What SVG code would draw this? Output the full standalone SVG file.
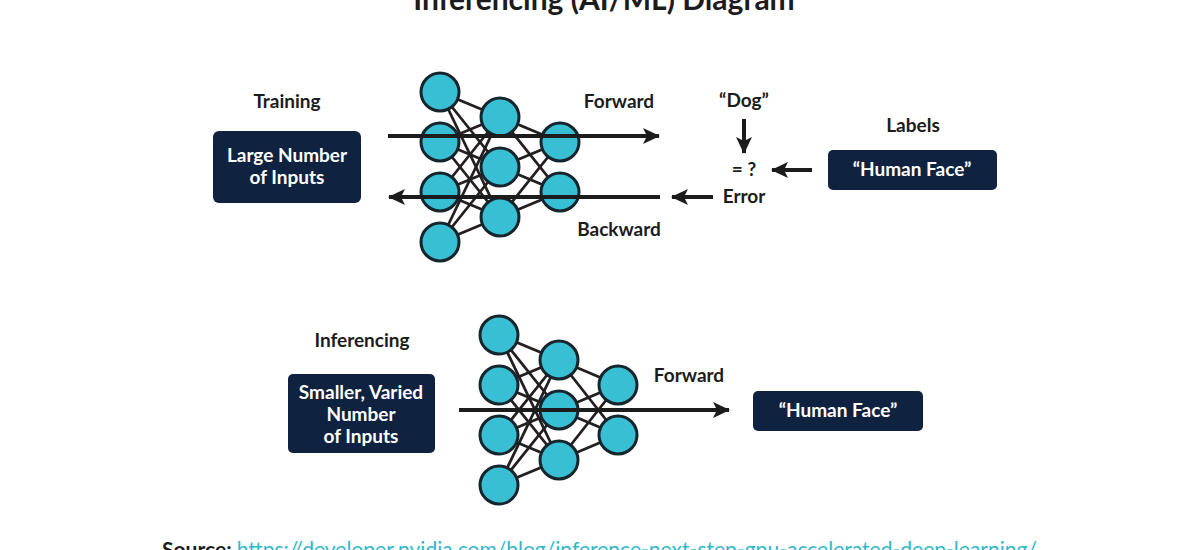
<svg xmlns="http://www.w3.org/2000/svg" width="1200" height="550" viewBox="0 0 1200 550">
<defs>
<marker id="ah" markerUnits="userSpaceOnUse" markerWidth="18" markerHeight="16" refX="16" refY="8" orient="auto">
<path d="M0,0 L17,8 L0,16 L4,8 z" fill="#1c1c1c"/>
</marker>
<style>
.t{font-family:Lato,"Noto Sans",sans-serif;font-weight:700;fill:#1c1c1c;font-size:19px;text-anchor:middle}
.w{font-family:Lato,"Noto Sans",sans-serif;font-weight:700;fill:#ffffff;font-size:19px;text-anchor:middle}
.box{fill:#0f223f}
.n{fill:#38bfd3;stroke:#16242c;stroke-width:3}
.e{stroke:#231f20;stroke-width:2.8;fill:none}
.a{stroke:#1c1c1c;stroke-width:4;fill:none}
</style>
</defs>
<rect width="1200" height="550" fill="#ffffff"/>
<text x="604" y="10" style="font-family:Lato,'Noto Sans',sans-serif;font-weight:700;font-size:30px;fill:#1c1c1c;text-anchor:middle">Inferencing (AI/ML) Diagram</text>

<g id="connectors">
<g id="net1-edges">
<line class="e" x1="440" y1="92" x2="500" y2="117"/><line class="e" x1="440" y1="92" x2="500" y2="167"/><line class="e" x1="440" y1="92" x2="500" y2="217"/>
<line class="e" x1="440" y1="142" x2="500" y2="117"/><line class="e" x1="440" y1="142" x2="500" y2="167"/><line class="e" x1="440" y1="142" x2="500" y2="217"/>
<line class="e" x1="440" y1="192" x2="500" y2="117"/><line class="e" x1="440" y1="192" x2="500" y2="167"/><line class="e" x1="440" y1="192" x2="500" y2="217"/>
<line class="e" x1="440" y1="242" x2="500" y2="117"/><line class="e" x1="440" y1="242" x2="500" y2="167"/><line class="e" x1="440" y1="242" x2="500" y2="217"/>
<line class="e" x1="500" y1="117" x2="560" y2="142"/><line class="e" x1="500" y1="117" x2="560" y2="192"/>
<line class="e" x1="500" y1="167" x2="560" y2="142"/><line class="e" x1="500" y1="167" x2="560" y2="192"/>
<line class="e" x1="500" y1="217" x2="560" y2="142"/><line class="e" x1="500" y1="217" x2="560" y2="192"/>
</g>
<g id="net2-edges">
<line class="e" x1="499" y1="335" x2="559" y2="360"/><line class="e" x1="499" y1="335" x2="559" y2="410"/><line class="e" x1="499" y1="335" x2="559" y2="460"/>
<line class="e" x1="499" y1="385" x2="559" y2="360"/><line class="e" x1="499" y1="385" x2="559" y2="410"/><line class="e" x1="499" y1="385" x2="559" y2="460"/>
<line class="e" x1="499" y1="435" x2="559" y2="360"/><line class="e" x1="499" y1="435" x2="559" y2="410"/><line class="e" x1="499" y1="435" x2="559" y2="460"/>
<line class="e" x1="499" y1="485" x2="559" y2="360"/><line class="e" x1="499" y1="485" x2="559" y2="410"/><line class="e" x1="499" y1="485" x2="559" y2="460"/>
<line class="e" x1="559" y1="360" x2="618" y2="385"/><line class="e" x1="559" y1="360" x2="618" y2="435"/>
<line class="e" x1="559" y1="410" x2="618" y2="385"/><line class="e" x1="559" y1="410" x2="618" y2="435"/>
<line class="e" x1="559" y1="460" x2="618" y2="385"/><line class="e" x1="559" y1="460" x2="618" y2="435"/>
</g>
</g>

<g id="net1-nodes">
<circle class="n" cx="440" cy="92" r="19"/><circle class="n" cx="440" cy="142" r="19"/><circle class="n" cx="440" cy="192" r="19"/><circle class="n" cx="440" cy="242" r="19"/>
<circle class="n" cx="500" cy="117" r="19"/><circle class="n" cx="500" cy="167" r="19"/><circle class="n" cx="500" cy="217" r="19"/>
<circle class="n" cx="560" cy="142" r="19"/><circle class="n" cx="560" cy="192" r="19"/>
</g>
<g id="net2-nodes">
<circle class="n" cx="499" cy="335" r="19"/><circle class="n" cx="499" cy="385" r="19"/><circle class="n" cx="499" cy="435" r="19"/><circle class="n" cx="499" cy="485" r="19"/>
<circle class="n" cx="559" cy="360" r="19"/><circle class="n" cx="559" cy="410" r="19"/><circle class="n" cx="559" cy="460" r="19"/>
<circle class="n" cx="618" cy="385" r="19"/><circle class="n" cx="618" cy="435" r="19"/>
</g>

<g id="arrows">
<line class="a" x1="388" y1="136" x2="659" y2="136" marker-end="url(#ah)"/>
<line class="a" x1="660" y1="197" x2="389" y2="197" marker-end="url(#ah)"/>
<line class="a" x1="744" y1="119" x2="744" y2="153" marker-end="url(#ah)"/>
<line class="a" x1="812" y1="170" x2="772" y2="170" marker-end="url(#ah)"/>
<line class="a" x1="713" y1="197" x2="672" y2="197" marker-end="url(#ah)"/>
<line class="a" x1="459" y1="410" x2="729" y2="410" marker-end="url(#ah)"/>
</g>

<g id="training">
<text class="t" x="287" y="108">Training</text>
<rect class="box" x="213" y="131" width="148" height="72" rx="6"/>
<text class="w" x="287" y="162">Large Number</text>
<text class="w" x="287" y="184">of Inputs</text>
</g>
<g id="labels">
<text class="t" x="913" y="132">Labels</text>
<rect class="box" x="828" y="150" width="169" height="40" rx="5"/>
<text class="w" x="912" y="176">“Human Face”</text>
</g>
<g id="misc-top">
<text class="t" x="619" y="108">Forward</text>
<text class="t" x="619" y="236">Backward</text>
<text class="t" x="744" y="107">“Dog”</text>
<text class="t" x="744" y="176">= ?</text>
<text class="t" x="744" y="203">Error</text>
</g>
<g id="inferencing">
<text class="t" x="362" y="347">Inferencing</text>
<rect class="box" x="288" y="374" width="147" height="79" rx="5"/>
<text class="w" x="361" y="399">Smaller, Varied</text>
<text class="w" x="361" y="421">Number</text>
<text class="w" x="361" y="443">of Inputs</text>
</g>
<g id="output">
<text class="t" x="689" y="382">Forward</text>
<rect class="box" x="753" y="391" width="170" height="40" rx="5"/>
<text class="w" x="838" y="417">“Human Face”</text>
</g>
<text x="162" y="557" style="font-family:Lato,'Noto Sans',sans-serif;font-size:21px" textLength="875" lengthAdjust="spacingAndGlyphs"><tspan font-weight="700" fill="#1c1c1c">Source: </tspan><tspan fill="#2fb8cc" text-decoration="underline">https://developer.nvidia.com/blog/inference-next-step-gpu-accelerated-deep-learning/</tspan></text>
</svg>
